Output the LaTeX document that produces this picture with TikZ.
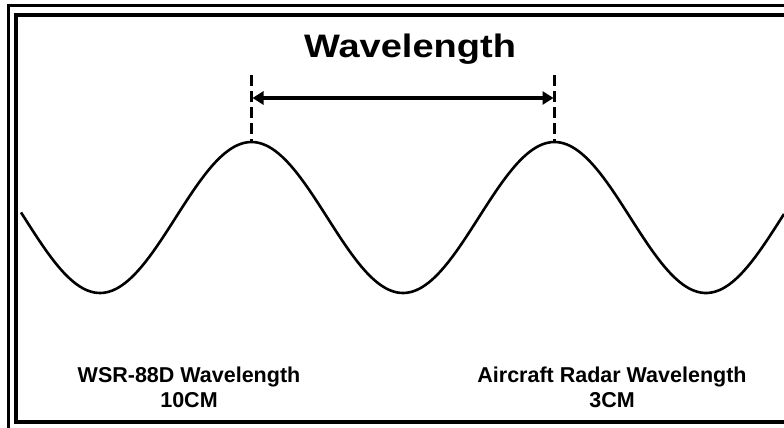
\documentclass[tikz,border=0pt]{standalone}
\usepackage{fontspec}
\setmainfont{Liberation Sans}
\usepackage{tikz}
\usetikzlibrary{arrows.meta, positioning}

\begin{document}
\begin{tikzpicture}[x=1pt, y=-1pt, >={Triangle[length=11pt, width=13pt]}, thick]
        % --- STILI ---
        \tikzset{
            frameline/.style={draw, line width=4pt},
            wave/.style={draw, line width=2.6pt, line join=round},
            marker/.style={draw, line width=2.6pt, dash pattern=on 11pt off 5pt},
            span/.style={draw, line width=4pt, <->},
            title/.style={font=\fontsize{32.5}{38}\selectfont\bfseries, inner sep=0pt, anchor=base},
            caption/.style={font=\fontsize{21.5}{25}\selectfont\bfseries, align=center, inner sep=0pt, anchor=north}
        }

        \useasboundingbox (0,0) rectangle (784,428);
        \clip (0,0) rectangle (784,428);

        % --- CORNICE ---
        \draw [frameline, line width=3pt] (8,440) -- (8,6) -- (800,6);
        \draw [frameline] (800,422) -- (16,422) -- (16,15) -- (800,15);

        % --- ONDA ---
        \draw [wave] plot[domain=21:784, samples=250] (\x, {217.5 + 75.5*cos(1.188119*(\x-100))});

        % --- MARCATORI ---
        \coordinate (peak_a) at (251.5,141);
        \coordinate (peak_b) at (554.5,141);
        \coordinate (top_a) at (251.5,75);
        \coordinate (top_b) at (554.5,75);
        \draw [marker] (top_a) -- (peak_a);
        \draw [marker] (top_b) -- (peak_b);

        \coordinate (tip_a) at (252.5,98);
        \coordinate (tip_b) at (553.5,98);
        \draw [span] (tip_a) -- (tip_b);

        % --- TESTI ---
        \node [title] (title) at (410,58) {\scalebox{1.17}[1]{Wavelength}};
        \node [caption] (wsr) at (189,367) {WSR-88D Wavelength\\10CM};
        \node [caption] (aircraft) at (612,367) {Aircraft Radar Wavelength\\3CM};

    \end{tikzpicture}
\end{document}
